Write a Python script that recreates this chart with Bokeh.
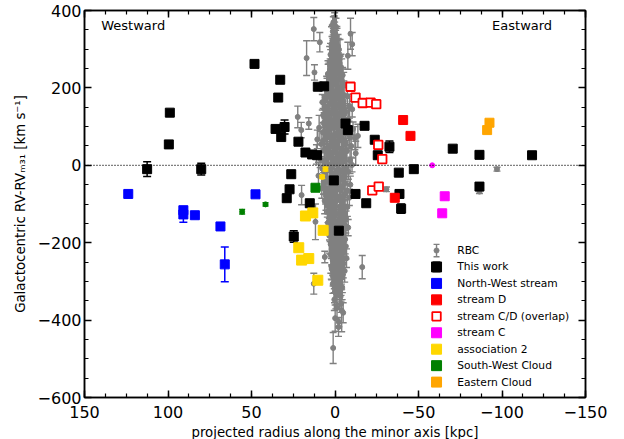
import numpy as np
from bokeh.plotting import figure
from bokeh.models import FixedTicker, LinearAxis, Range1d, Label, Span
from bokeh.core.properties import value
from bokeh.embed import file_html
from bokeh.resources import INLINE

FONT = "DejaVu Sans"

# ---- RBC: radial velocities around the centre (x [kpc], dRV, error) ----
rbc_x = [0.4, -0.6, 1.3, -1.1, 0.2, 1.8, -1.9, 0.9, -0.2, 2.6, -2.8, 1.4,
         -3.2, 2.8, -0.9, 0.6, 4.2, -4.6, 1.7, -0.3, -2.2, 3.4, 0.1, -5.2, 2.3, -1.6, 4.8, -3.9, 1.0, -0.7, 3.1, -2.6,
         -7.4, 6.1, -2.0, 1.5, -5.1, 7.6, 3.3, -0.5, -8.7, 4.5, -3.5, 0.7, 5.7, -6.3, 2.1, -1.1, 7.1, -4.3, 3.9, -8.1,
         0.2, -2.9, 6.5, -5.7, 1.9, -0.8, 4.8, -3.2,
         9.5, -10.8, 3.1, -4.6, 7.2, -1.3, -8.4, 5.4, 0.6, -11.9, 10.6, -2.7, 2.0, -6.3, 8.3, -0.2, -9.7, 4.3, -3.8,
         6.4, -7.1, 1.2, -12.4, 11.1, -5.2, 3.7, -1.9, 8.9, -9.0, 0.9, -4.1, 5.9, -10.2, 2.6, -6.8, 7.7, -2.3, 4.8,
         -8.0, 1.7, -0.8, 9.9, -5.7, 3.0, -3.1, 6.8,
         6.8, -9.2, 2.4, -4.4, 7.9, -1.6, -7.3, 4.1, 0.4, -5.9, 5.6, -2.8, -8.6, 3.0, -0.9, 6.2, -4.0, 1.3,
         4.6, -7.4, 1.8, -3.3, 3.9, -5.8, -0.6, 2.7, -6.6, 0.9, -2.2, 4.2, -4.7, 1.2, -7.9, 3.3, -1.4, -5.2, 2.2,
         -3.9, 0.3, -6.1, 1.6, -2.7,
         2.6, -6.5, 0.8, -3.1, -5.0, 1.9, -1.4, -6.9, 0.1, -2.5, -4.4, 2.2, -0.7, -5.8, -1.9, 1.0, -3.7, -0.3,
         1.3, -4.3, -0.6, -2.8, 0.4, -3.6, -1.2, -4.9, -0.1, -2.1,
         0.2, 1.0, 12.7, -9.3, 9.1, -10.3, -7.7, 17.0, 12.3, 22.3, 15.7, 20.2, -10.3, -13.7, -8.9, 20.0, -30.8,
         -86.5, -97.0, 6.1, -16.3, -4.0, -2.3, 1.1, 11.7, 12.7]
rbc_y = [372, 358, 346, 333, 321, 309, 298, 288, 279, 271, 264, 258,
         252, 248, 244, 240, 236, 233, 229, 225, 222, 218, 214, 210, 207, 203, 199, 195, 191, 187, 184, 180,
         178, 175, 172, 168, 165, 163, 159, 156, 153, 150, 147, 144, 141, 138, 135, 132, 129, 126, 123, 120,
         117, 114, 111, 108, 105, 103, 101, 99,
         97, 94, 92, 88, 85, 83, 79, 76, 74, 70, 67, 64, 61, 59, 55, 52, 50, 46, 43,
         41, 37, 34, 31, 28, 26, 22, 19, 16, 13, 10, 8, 4, 1, -2, -5, -8, -11, -14,
         -17, -21, -24, -27, -31, -34, -38, -43,
         -47, -50, -53, -56, -59, -62, -65, -68, -71, -74, -77, -80, -83, -86, -89, -92, -96, -100,
         -104, -108, -112, -116, -120, -124, -128, -132, -137, -141, -145, -149, -153, -157, -161, -165, -170,
         -174, -178, -182, -187, -191, -195, -199,
         -204, -209, -214, -219, -224, -229, -234, -240, -245, -250, -256, -261, -267, -273, -279, -285, -292, -299,
         -306, -315, -326, -336, -347, -358, -368, -381, -395, -418,
         382, 369, 352, 340, 318, 313, 283, 277, 240, 125, 108, 91, 145, 76, 72, -77, -62,
         -68, -10, -237, -263, -375, -405, -472, -146, -306]
rbc_err = [14, 22, 18, 26, 20, 24, 30, 18, 22, 28, 20, 25,
           30, 22, 18, 26, 34, 20, 24, 16, 28, 22, 18, 30, 24, 20, 26, 22, 18, 24, 30, 20,
           24, 30, 18, 27, 35, 20, 26, 22, 31, 19, 28, 24, 33, 21, 25, 29, 18, 34, 23, 27,
           20, 30, 25, 22, 36, 19, 28, 24,
           32, 18, 25, 40, 22, 15, 35, 28, 20, 30, 24, 38, 18, 26, 33, 21, 29, 16, 36,
           23, 27, 19, 31, 25, 42, 17, 28, 22, 34, 20, 26, 30, 18, 37, 24, 21, 29, 33,
           19, 27, 23, 35, 20, 28, 25, 31,
           28, 22, 35, 19, 26, 31, 24, 20, 38, 27, 23, 30, 21, 29, 25, 33, 18, 26,
           30, 24, 20, 36, 27, 22, 33, 25, 19, 29, 41, 23, 26, 32, 21, 28, 35,
           24, 20, 30, 26, 38, 22, 27,
           26, 34, 22, 30, 19, 28, 38, 24, 31, 21, 27, 33, 25, 29, 36, 23, 30, 27,
           25, 32, 20, 36, 28, 22, 30, 26, 34, 24,
           12, 15, 30, 40, 25, 30, 35, 45, 20, 28, 15, 20, 20, 30, 20, 25, 6,
           5, 5, 15, 30, 55, 12, 40, 46, 27]

# RBC stars in the densest part of the column
core_x = [0.8, -1.2, 1.6, -0.4, 2.1, -1.8, 0.3, -2.4, 1.1, -0.9,
          2.7, -3.0, 0.5, -1.5, 3.2, -2.1, 1.8, -3.6, 0.0, 2.9,
          -1.0, 4.1, -4.0, 1.3, -2.9, 3.6, -0.6, -4.8, 2.4, -1.9,
          5.0, -3.3, 0.9, -5.3, 3.0, -0.2, 5.6, -4.3, 1.7, -2.5,
          6.0, -5.8, 0.4, 3.8, -3.6, -1.2, 5.2, -6.1, 2.3, -0.7,
          6.4, -4.7, 1.0, -2.0, 4.4, -6.6, 0.2, 3.1, -3.9, 6.8,
          -1.4, -5.5, 2.7, -0.3, 5.1, -6.9, 1.5, -2.6, 4.0, -4.4,
          0.6, 6.3, -3.0, -0.9, 2.0, -6.2, 4.7, -1.8, 0.1, 5.9,
          -4.9, 1.9, -2.3, 3.5, -5.6, 0.7, -0.8, 4.9, -3.4, 1.4,
          -6.0, 2.6, -1.1, 5.4, -4.2, 0.0, 3.0, -2.8, -5.1, 1.6,
          4.2, -0.5, -3.9, 2.2, -6.3, 0.9, 3.7, -2.1, -4.6, 1.3,
          -0.3, 2.9, -5.2, -1.6, 3.4, -3.5, 0.5, -4.9, 2.1, -1.0,
          -3.2, 1.8, -5.5, 0.2, -2.4, 2.5, -4.1, -0.6, 1.4, -3.0,
          -5.0, 0.7, -1.8, 2.0, -3.8, -0.2, -2.6, 1.1, -4.4, -1.2,
          0.5, -3.1, -2.0, 0.3, -3.6, -1.0, -2.7, -0.5]
core_y = [331, 326, 322, 317, 313, 308, 304, 299, 295, 290,
          286, 281, 277, 272, 268, 263, 259, 254, 250, 245,
          241, 236, 232, 227, 223, 218, 214, 209, 205, 200,
          196, 191, 187, 182, 178, 173, 169, 164, 160, 155,
          151, 146, 142, 137, 133, 128, 124, 119, 115, 110,
          106, 101, 97, 92, 88, 83, 79, 74, 70, 65,
          61, 56, 52, 47, 43, 38, 34, 29, 25, 20,
          16, 11, 7, 2, -2, -7, -11, -16, -20, -25,
          -29, -34, -38, -43, -47, -52, -56, -61, -65, -70,
          -74, -79, -83, -88, -92, -97, -101, -106, -110, -115,
          -119, -124, -128, -133, -137, -142, -146, -151, -155, -160,
          -164, -169, -173, -178, -182, -187, -191, -196, -200, -205,
          -209, -214, -218, -223, -227, -232, -236, -241, -245, -250,
          -254, -259, -263, -268, -272, -277, -281, -286, -290, -295,
          -299, -304, -308, -313, -317, -322, -326, -331]
core_err = [35, 28, 40, 32, 45, 30, 38, 26, 42, 34,
            29, 44, 36, 31, 39, 27, 47, 33, 41, 30,
            37, 25, 43, 35, 28, 46, 32, 40, 27, 38,
            34, 42, 29, 36, 48, 31, 26, 39, 44, 33,
            30, 37, 45, 28, 35, 41, 32, 27, 43, 38,
            26, 34, 40, 47, 31, 29, 36, 42, 28, 33,
            39, 45, 30, 35, 27, 32, 44, 38, 29, 41,
            36, 28, 33, 46, 30, 40, 25, 37, 43, 31,
            34, 42, 27, 38, 45, 29, 36, 31, 40, 26,
            33, 47, 35, 28, 41, 30, 38, 44, 27, 36,
            29, 40, 34, 46, 31, 37, 25, 43, 32, 39,
            42, 28, 36, 33, 45, 30, 39, 27, 41, 35,
            31, 44, 26, 38, 34, 47, 29, 36, 40, 32,
            37, 30, 43, 28, 35, 41, 33, 26, 39, 45,
            30, 36, 28, 42, 34, 38, 31, 40]

# ---- This work ----
tw_x = [48.2, 32.8, 34.0, 35.6, 30.2, 32.2, 21.9, 17.7, 13.7, 10.7, 10.3, 6.5, 98.9, 99.5, 112.5, 80.1,
        26.2, 27.2, 28.9, 15.1, 0.7, 24.7, -2.3, -6.3, -7.7, -17.7, -23.8, -32.6, -25.6, -38.2, -47.2,
        -70.5, -86.5, -118.0, -86.5, -12.3, -18.7, -38.6, -39.6]
tw_y = [262, 221, 175, 94, 99, 73, 61, 33, 28, 26, 203, 204, 136, 54, -10, -10,
        -23, -62, -85, -98, -39, -184, -169, 108, 91, 102, 66, 48, 26, -19, -10,
        43, 27, 26, -55, -74, -98, -74, -112]
tw_err = [5, 5, 8, 5, 18, 5, 5, 5, 5, 5, 5, 5, 4, 4, 19, 15,
          4, 4, 8, 4, 4, 15, 4, 5, 5, 4, 4, 15, 4, 4, 4,
          4, 4, 4, 4, 4, 4, 4, 12]

# ---- substructures ----
nw_x = [123.8, 90.8, 90.8, 83.9, 68.6, 66.0, 47.6]
nw_y = [-74, -116, -127, -129, -158, -256, -75]
nw_err = [4, 6, 20, 5, 4, 45, 4]

sd_x = [-40.8, -45.2, -35.8]
sd_y = [117, 76, -84]

scd_x = [-9.3, -12.3, -16.6, -21.3, -24.7, -25.9, -28.3, -22.3, -26.2]
scd_y = [203, 175, 161, 162, 158, 53, 16, -65, -55]

sc_x = [-65.7, -64.2]
sc_y = [-80, -124]
sc_small_x = [-58.2]
sc_small_y = [0]

a2_x = [17.7, 13.3, 7.1, 21.7, 20.0, 15.7, 10.3]
a2_y = [-131, -123, -168, -213, -245, -241, -297]
a2_small_x = [5.7, 7.7]
a2_small_y = [-10, -30]
a2_small_err = [5, 4]

sw_x = [11.7]
sw_y = [-58]
sw_small_x = [55.6, 41.6]
sw_small_y = [-120, -101]
sw_small_err = [6, 4]

ec_x = [-92.5, -91.1]
ec_y = [110, 91]

legend_labels = ["RBC", "This work", "North-West stream", "stream D", "stream C/D (overlap)",
                 "stream C", "association 2", "South-West Cloud", "Eastern Cloud"]

# ---- figure ----
p = figure(frame_width=501, frame_height=387, x_range=Range1d(150, -150),
           y_range=Range1d(-600, 400), output_backend="svg", toolbar_location=None,
           min_border_left=84, min_border_right=39, min_border_top=10, min_border_bottom=42)
p.grid.visible = False
p.outline_line_color = "black"
p.outline_line_width = 1.5

x_major = [150, 100, 50, 0, -50, -100, -150]
x_minor = list(np.arange(-150, 150.1, 12.5))
y_major = [400, 200, 0, -200, -400, -600]
y_minor = list(np.arange(-600, 400.1, 50))


def minus(v):
    return ("\u2212" + str(abs(int(v)))) if v < 0 else str(int(v))


def style_axis(ax, major, minor, show_labels=True):
    ax.ticker = FixedTicker(ticks=major, minor_ticks=minor)
    ax.axis_line_color = "black"
    ax.axis_line_width = 1.5
    ax.major_tick_in = 7
    ax.major_tick_out = 0
    ax.minor_tick_in = 4
    ax.minor_tick_out = 0
    ax.major_tick_line_width = 1.5
    ax.minor_tick_line_width = 1.2
    ax.major_tick_line_color = "black"
    ax.minor_tick_line_color = "black"
    if show_labels:
        ax.major_label_overrides = {v: minus(v) for v in major}
        ax.major_label_text_font = FONT
        ax.major_label_text_font_size = "16px"
        ax.major_label_text_color = "black"
        ax.axis_label_text_font = FONT
        ax.axis_label_text_font_size = "13.3px"
        ax.axis_label_text_font_style = "normal"
        ax.axis_label_text_color = "black"
    else:
        # tick marks only on the mirrored axes
        ax.major_label_overrides = {v: "" for v in major}
        ax.major_label_text_font_size = "1px"
        ax.major_label_standoff = 0


xa = p.xaxis[0]
ya = p.yaxis[0]
style_axis(xa, x_major, x_minor)
style_axis(ya, y_major, y_minor)
xa.major_label_standoff = 8
xa.axis_label = "projected radius along the minor axis [kpc]"
xa.axis_label_standoff = 4
ya.major_label_standoff = 3
ya.axis_label = "Galactocentric RV-RV\u2098\u2083\u2081 [km s\u207b\u00b9]"
ya.axis_label_standoff = 7

top_ax = LinearAxis()
style_axis(top_ax, x_major, x_minor, show_labels=False)
p.add_layout(top_ax, "above")
right_ax = LinearAxis()
style_axis(right_ax, y_major, y_minor, show_labels=False)
p.add_layout(right_ax, "right")

# zero-velocity reference line
p.add_layout(Span(location=0, dimension="width", line_color="black",
                  line_dash="1 2", line_width=1.2))


def errorbars(xs, ys, es, color, cap, lw):
    lo = [y - e for y, e in zip(ys, es)]
    hi = [y + e for y, e in zip(ys, es)]
    p.segment(x0=xs, y0=lo, x1=xs, y1=hi, line_color=color, line_width=lw)
    p.scatter(x=list(xs) + list(xs), y=lo + hi, marker="dash", size=cap, line_color=color,
              line_width=lw)


# RBC
all_x = rbc_x + core_x
all_y = rbc_y + core_y
all_e = rbc_err + core_err
errorbars(all_x, all_y, all_e, "gray", 7, 1.4)
p.scatter(x=all_x, y=all_y, marker="circle", size=5, fill_color="gray", line_color="gray")

# This work
errorbars(tw_x, tw_y, tw_err, "black", 8, 1.5)
p.scatter(x=tw_x, y=tw_y, marker="square", size=9, fill_color="black", line_color="black")

# North-West stream
errorbars(nw_x, nw_y, nw_err, "blue", 8, 1.5)
p.scatter(x=nw_x, y=nw_y, marker="square", size=9, fill_color="blue", line_color="blue")

# stream D
p.scatter(x=sd_x, y=sd_y, marker="square", size=9, fill_color="red", line_color="red")

# stream C/D overlap (open symbols)
p.scatter(x=scd_x, y=scd_y, marker="square", size=8.5, fill_color="white",
          line_color="red", line_width=1.8)

# stream C
p.scatter(x=sc_x, y=sc_y, marker="square", size=9, fill_color="magenta", line_color="magenta")
p.scatter(x=sc_small_x, y=sc_small_y, marker="circle", size=5, fill_color="magenta",
          line_color="magenta")

# association 2
errorbars(a2_small_x, a2_small_y, a2_small_err, "gold", 6, 1.5)
p.scatter(x=a2_small_x, y=a2_small_y, marker="circle", size=5, fill_color="gold", line_color="gold")
p.scatter(x=a2_x, y=a2_y, marker="square", size=10, fill_color="gold", line_color="gold")

# South-West Cloud
errorbars(sw_small_x, sw_small_y, sw_small_err, "green", 6, 1.5)
p.scatter(x=sw_small_x, y=sw_small_y, marker="circle", size=5, fill_color="green", line_color="green")
p.scatter(x=sw_x, y=sw_y, marker="square", size=9, fill_color="green", line_color="green")

# Eastern Cloud
p.scatter(x=ec_x, y=ec_y, marker="square", size=9, fill_color="orange", line_color="orange")

# direction labels
for txt, xx, al in (("Westward", 140, "left"), ("Eastward", -130, "right")):
    p.add_layout(Label(x=xx, y=361, text=txt, text_font=FONT, text_font_size="13px",
                       text_align=al, text_baseline="middle", text_color="black"))

# ---- legend (keys and labels laid out in a column at the lower right) ----
key_x = -60.8
txt_x = -73.2
row_y = [-220.2 - 42.5 * i for i in range(len(legend_labels))]
p.segment(x0=[key_x], y0=[row_y[0] - 16], x1=[key_x], y1=[row_y[0] + 16], line_color="gray",
          line_width=1.4)
p.scatter(x=[key_x, key_x], y=[row_y[0] - 16, row_y[0] + 16], marker="dash", size=6,
          line_color="gray", line_width=1.4)
p.scatter(x=[key_x], y=[row_y[0]], marker="circle", size=5, fill_color="gray", line_color="gray")
p.scatter(x=[key_x, key_x], y=[row_y[1] - 12, row_y[1] + 12], marker="dash", size=7,
          line_color="black", line_width=1.4)
key_colors = ["black", "blue", "red", None, "magenta", "gold", "green", "orange"]
fill_keys = [(c, row_y[i + 1]) for i, c in enumerate(key_colors) if c]
p.scatter(x=[key_x] * len(fill_keys), y=[yy for _, yy in fill_keys], marker="square", size=10,
          fill_color=[c for c, _ in fill_keys], line_color=[c for c, _ in fill_keys])
p.scatter(x=[key_x], y=[row_y[4]], marker="square", size=8.5, fill_color="white", line_color="red",
          line_width=1.8)
p.text(x=[txt_x] * len(legend_labels), y=row_y, text=legend_labels, text_font=value(FONT),
       text_font_size="10.7px", text_baseline="middle", text_align="left", text_color="black")

open("out.html", "w").write(file_html(p, INLINE))
